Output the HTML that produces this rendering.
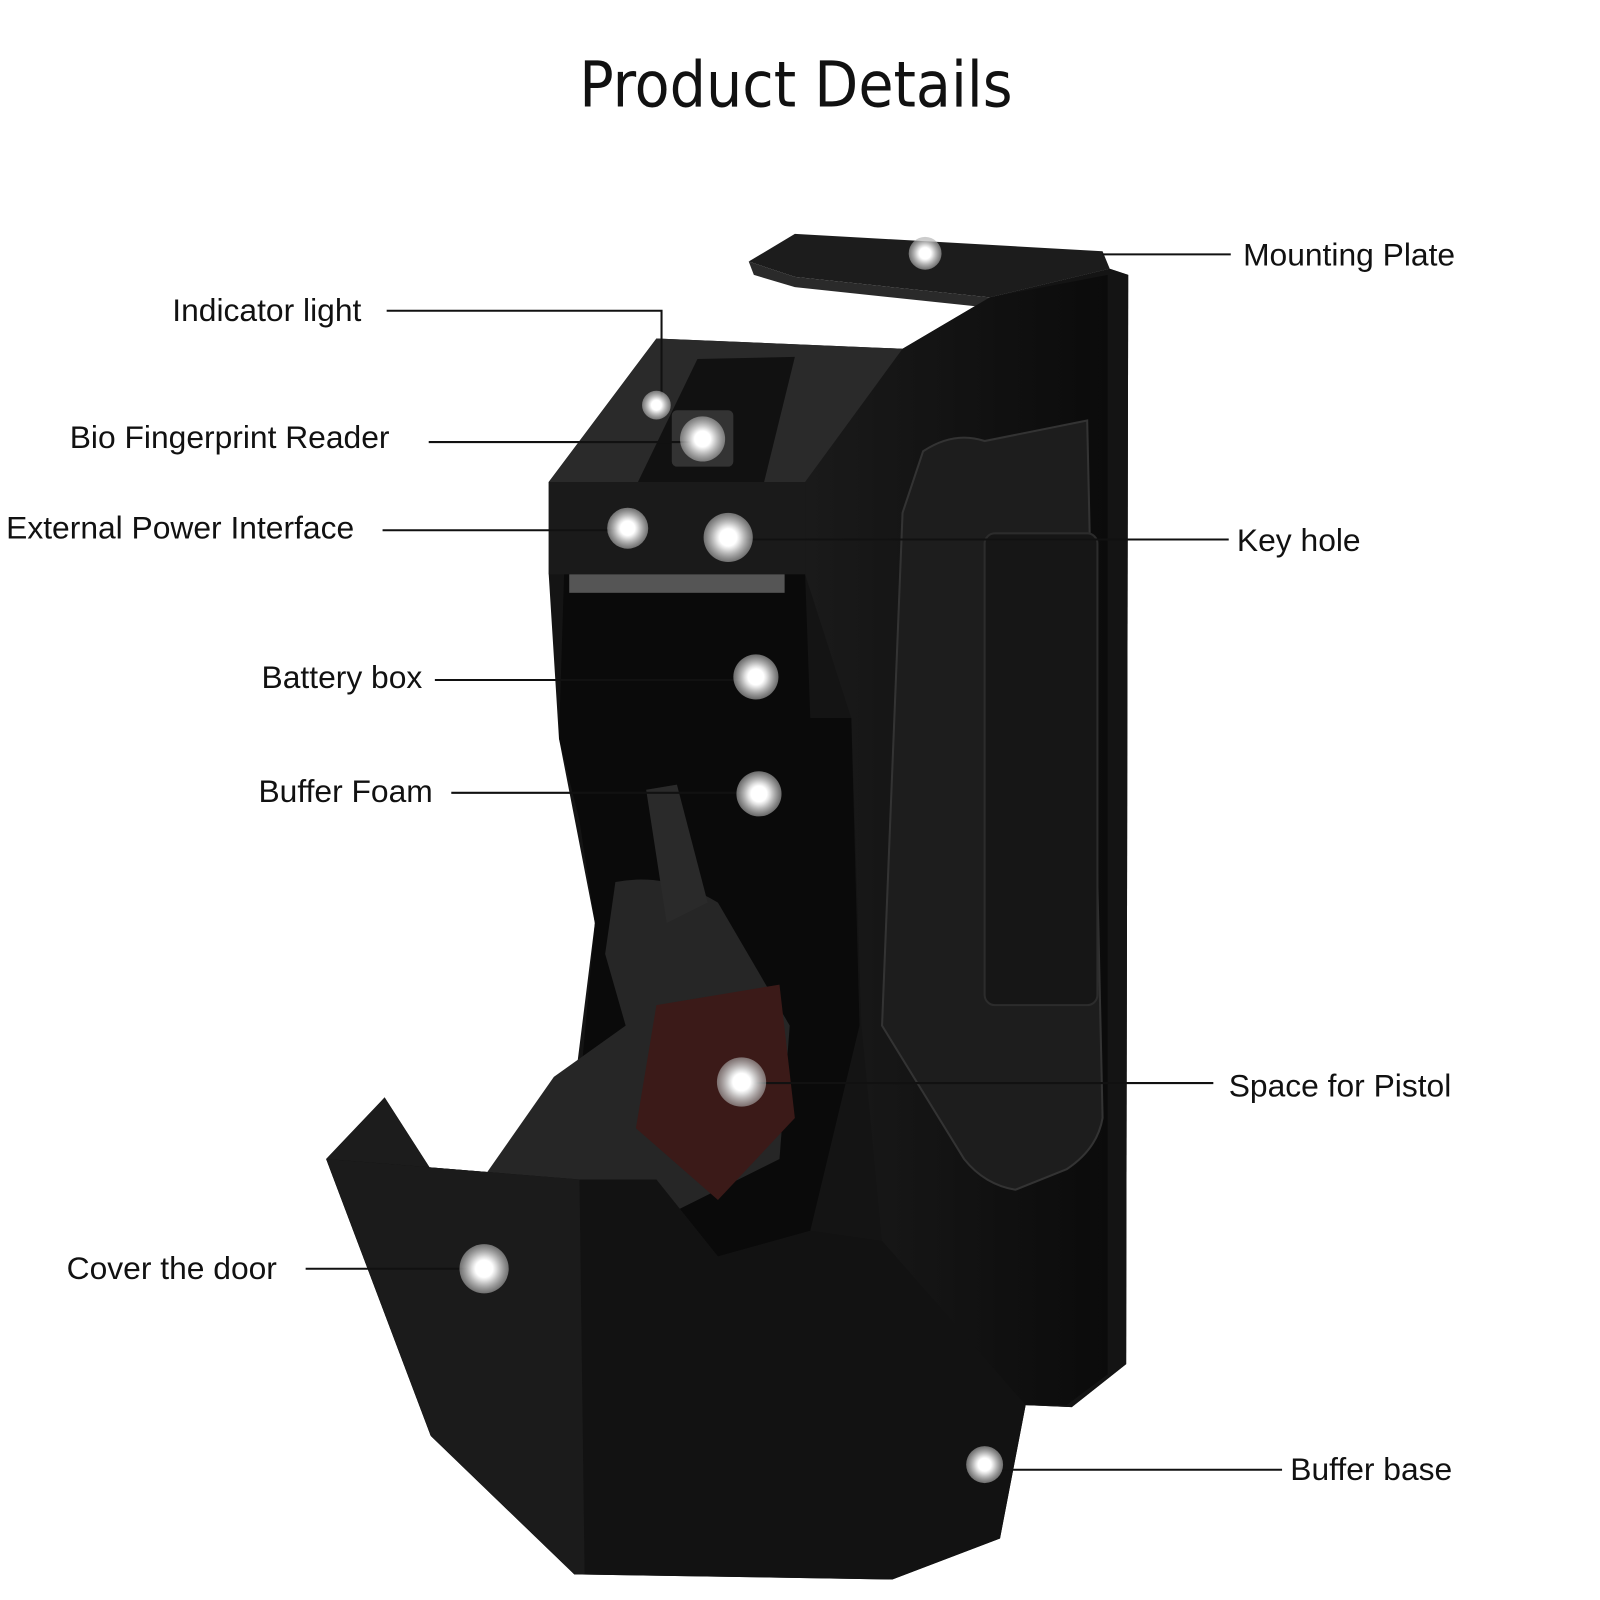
<!DOCTYPE html>
<html><head><meta charset="utf-8"><style>
html,body{margin:0;padding:0;background:#fff;width:1600px;height:1600px;overflow:hidden}
svg{display:block}
text{font-family:"Liberation Sans",sans-serif;fill:#111}
</style></head><body>
<svg width="1600" height="1600" viewBox="0 0 1560 1560" xmlns="http://www.w3.org/2000/svg">
<defs>
<radialGradient id="dot"><stop offset="0.35" stop-color="#fff"/><stop offset="0.5" stop-color="#ddd"/><stop offset="1" stop-color="#aaa" stop-opacity="0.6"/></radialGradient>
<linearGradient id="side" x1="0" x2="1"><stop offset="0" stop-color="#1a1a1a"/><stop offset="1" stop-color="#0b0b0b"/></linearGradient>
</defs>
<text x="776" y="104" text-anchor="middle" font-size="62" style="font-family:'DejaVu Sans Condensed','Liberation Sans',sans-serif" fill="#000">Product Details</text>

<polygon points="535,470 640,330 880,340 965,290 1082,262 1100,268 1098,1330 1045,1372 1000,1370 975,1500 870,1540 560,1535 420,1400 318,1130 375,1070 420,1140 480,1145 560,1060 580,900 545,720 535,560" fill="#141414"/>
<polygon points="965,290 1082,262 1100,268 1098,1330 1045,1372 1000,1370 965,1320" fill="#141414"/>
<polygon points="730,255 775,228 1075,245 1082,262 965,290 775,270" fill="#1c1c1c"/>
<polygon points="730,255 775,270 965,290 965,300 775,280 735,268" fill="#2a2a2a"/>
<polygon points="785,470 880,340 965,290 1080,268 1080,1340 1040,1370 1000,1370 860,1210 840,1000 830,700 785,560" fill="url(#side)"/>
<path d="M900,440 Q930,420 960,430 L1060,410 L1075,1090 Q1070,1120 1040,1140 L990,1160 Q960,1155 940,1130 L860,1000 L880,500 Z" fill="#1d1d1d" stroke="#333" stroke-width="2"/>
<rect x="960" y="520" width="110" height="460" rx="10" fill="#161616" stroke="#2c2c2c" stroke-width="2"/>
<polygon points="535,470 640,330 880,340 785,470" fill="#2a2a2a"/>
<polygon points="622,470 680,350 775,348 745,470" fill="#111"/>
<rect x="655" y="400" width="60" height="55" rx="5" fill="#333"/>
<polygon points="535,470 785,470 785,560 535,560" fill="#1a1a1a"/>
<path d="M550,560 L785,560 L790,700 L830,700 L838,1000 L790,1200 L700,1225 L640,1150 L560,1120 L580,900 L565,800 L545,720 Z" fill="#0a0a0a"/>
<rect x="555" y="560" width="210" height="18" fill="#555"/>
<path d="M600,860 Q650,850 700,880 L770,1000 L760,1130 L640,1190 L470,1150 L540,1050 L610,1000 L590,930 Z" fill="#262626"/>
<path d="M640,980 L760,960 L775,1090 L700,1170 L620,1100 Z" fill="#3b1a18"/>
<path d="M630,770 L660,765 L690,880 L650,900 Z" fill="#2a2a2a"/>
<polygon points="318,1130 375,1070 420,1140 565,1150" fill="#1c1c1c"/>
<polygon points="318,1130 565,1150 640,1150 700,1225 790,1200 860,1210 1000,1370 975,1500 870,1540 560,1535 420,1400" fill="#121212"/>
<polygon points="318,1130 565,1150 570,1535 560,1535 420,1400" fill="#1b1b1b"/>

<g stroke="#111" stroke-width="2" fill="none">
<line x1="1075" y1="248" x2="1200" y2="248"/>
<polyline points="377,303 645,303 645,395"/>
<line x1="418" y1="431" x2="685" y2="431"/>
<line x1="373" y1="517" x2="612" y2="517"/>
<line x1="710" y1="526" x2="1198" y2="526"/>
<line x1="424" y1="663" x2="737" y2="663"/>
<line x1="440" y1="773" x2="740" y2="773"/>
<line x1="723" y1="1056" x2="1183" y2="1056"/>
<line x1="298" y1="1237" x2="472" y2="1237"/>
<line x1="960" y1="1433" x2="1250" y2="1433"/>
</g>
<g fill="url(#dot)">
<circle cx="902" cy="247" r="16"/>
<circle cx="640" cy="395" r="14"/>
<circle cx="685" cy="428" r="22"/>
<circle cx="612" cy="515" r="20"/>
<circle cx="710" cy="524" r="24"/>
<circle cx="737" cy="660" r="22"/>
<circle cx="740" cy="774" r="22"/>
<circle cx="723" cy="1055" r="24"/>
<circle cx="472" cy="1237" r="24"/>
<circle cx="960" cy="1428" r="18"/>
</g>
<g font-size="31">
<text x="1212" y="259">Mounting Plate</text>
<text x="168" y="313">Indicator light</text>
<text x="68" y="437">Bio Fingerprint Reader</text>
<text x="6" y="525">External Power Interface</text>
<text x="1206" y="537">Key hole</text>
<text x="255" y="671">Battery box</text>
<text x="252" y="782">Buffer Foam</text>
<text x="1198" y="1069">Space for Pistol</text>
<text x="65" y="1247">Cover the door</text>
<text x="1258" y="1443">Buffer base</text>
</g>
</svg>
</body></html>
